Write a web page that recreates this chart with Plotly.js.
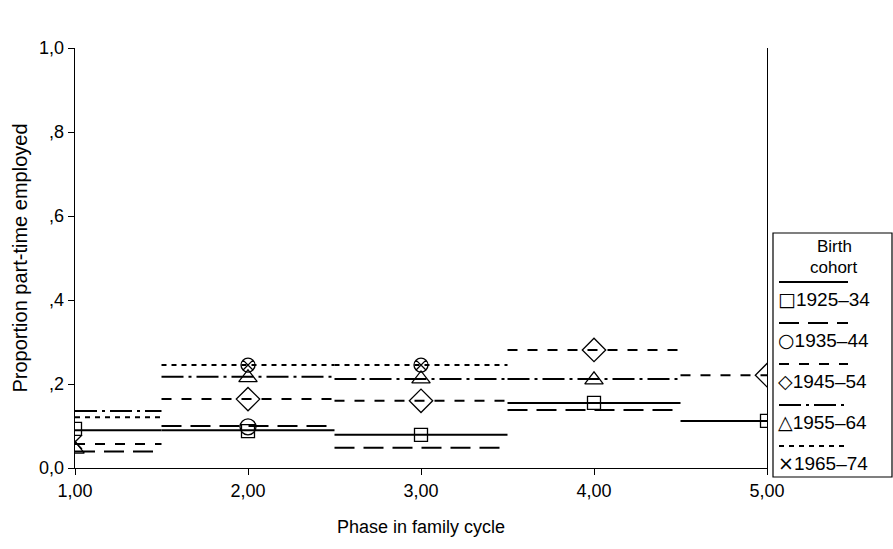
<!DOCTYPE html>
<html><head><meta charset="utf-8">
<script src="https://cdn.plot.ly/plotly-3.0.1.min.js"></script>
<style>html,body{margin:0;padding:0;background:#fff}#chart{width:893px;height:549px}</style>
</head><body><div id="chart"></div>
<script>
// ---- data ----
const phases = [1, 2, 3, 4, 5];
const cohorts = ['1925–34', '1935–44', '1945–54', '1955–64', '1965–74'];
// horizontal step levels per phase
const level1925 = [0.090, 0.090, 0.079, 0.155, 0.112];
const level1935 = [0.039, 0.100, 0.048, 0.138, null];
const level1945 = [0.057, 0.164, 0.160, 0.281, 0.221];
const level1955 = [0.136, 0.217, 0.212, 0.212, null];
const level1965 = [0.121, 0.245, 0.245, null, null];
// marker values per phase
const mark1925 = [0.093, 0.088, 0.079, 0.155, 0.112];
const mark1935 = [null, 0.098, null, null, null];
const mark1945 = [null, 0.164, 0.160, 0.281, 0.221];
const mark1955 = [0.045, 0.215, 0.212, 0.210, null];
const mark1965 = [0.062, 0.245, 0.245, null, null];
const xTickVals = [1, 2, 3, 4, 5];
const xTickText = ['1,00', '2,00', '3,00', '4,00', '5,00'];
const yTickVals = [0, 0.2, 0.4, 0.6, 0.8, 1.0];
const yTickText = ['0,0', ',2', ',4', ',6', ',8', '1,0'];

// ---- styles ----
const levels = [level1925, level1935, level1945, level1955, level1965];
const marks = [mark1925, mark1935, mark1945, mark1955, mark1965];
const dashes = ['solid', '20px,9px', '10px,10px', '22px,5px,3px,5px', '5px,5px'];
const symbols = [
  ['square-open'], ['circle-open'], ['diamond-open'], ['triangle-up-open'],
  ['x-thin-open', 'circle-x-open', 'circle-x-open']
];
const msize = [13, 16, 18, 16, 14];
const glyphs = ['□', '○', '◇', '△', '×'];

const XMIN = 1, XMAX = 5;
function steps(vals) {
  const xs = [], ys = [];
  vals.forEach((v, i) => {
    if (v == null) return;
    const p = phases[i];
    xs.push(Math.max(p - 0.5, XMIN), Math.min(p + 0.5, XMAX), null);
    ys.push(v, v, null);
  });
  return {xs, ys};
}

const traces = [];
levels.forEach((lv, k) => {
  const s = steps(lv);
  traces.push({x: s.xs, y: s.ys, type: 'scatter', mode: 'lines', showlegend: false,
    line: {color: '#000', width: 2, dash: dashes[k]}, hoverinfo: 'skip'});
});
marks.forEach((mv, k) => {
  const sy = phases.map((p, i) => symbols[k][Math.min(i, symbols[k].length - 1)]);
  traces.push({x: phases, y: mv, type: 'scatter', mode: 'markers', showlegend: false,
    marker: {symbol: sy, size: msize[k], color: '#000', line: {color: '#000', width: 1.3}}});
});

// ---- layout ----
const W = 893, H = 549, L = 75, R = 126, T = 48, B = 81;
const pw = W - L - R, ph = H - T - B;
const px = v => (v - L) / pw;
const py = v => (H - B - v) / ph;
const FONT = 'Liberation Sans, Arial, sans-serif';

const shapes = [], annotations = [];
// legend box
const boxL = 773, boxR = 892, boxT = 233, boxB = 477;
shapes.push({type: 'rect', xref: 'paper', yref: 'paper', x0: px(boxL), x1: px(boxR), y0: py(boxB), y1: py(boxT),
  line: {color: '#000', width: 1.2}, fillcolor: 'rgba(0,0,0,0)'});
annotations.push({xref: 'paper', yref: 'paper', x: px(834), y: py(246), text: 'Birth', showarrow: false,
  font: {family: FONT, size: 17, color: '#000'}, xanchor: 'center', yanchor: 'middle'});
annotations.push({xref: 'paper', yref: 'paper', x: px(834), y: py(267), text: 'cohort', showarrow: false,
  font: {family: FONT, size: 17, color: '#000'}, xanchor: 'center', yanchor: 'middle'});
cohorts.forEach((c, k) => {
  const lineY = 282 + k * 41, textY = lineY + 17;
  shapes.push({type: 'line', xref: 'paper', yref: 'paper', x0: px(779), x1: px(848), y0: py(lineY), y1: py(lineY),
    line: {color: '#000', width: 2, dash: dashes[k]}});
  annotations.push({xref: 'paper', yref: 'paper', x: px(776), y: py(textY),
    text: '<span style="font-family:DejaVu Sans">' + glyphs[k] + '</span>' + c,
    showarrow: false, font: {family: FONT, size: 19, color: '#000'}, xanchor: 'left', yanchor: 'middle'});
});

const layout = {
  width: W, height: H,
  margin: {l: L, r: R, t: T, b: B, pad: 0},
  paper_bgcolor: '#fff', plot_bgcolor: '#fff',
  font: {family: FONT, size: 18, color: '#000'},
  showlegend: false,
  xaxis: {range: [XMIN, XMAX], tickvals: xTickVals, ticktext: xTickText, showgrid: false, zeroline: false,
    showline: true, linecolor: '#000', linewidth: 1.3, ticks: 'outside', ticklen: 6, tickcolor: '#000',
    tickfont: {family: FONT, size: 18}, title: {text: 'Phase in family cycle', font: {family: FONT, size: 18}, standoff: 20}},
  yaxis: {range: [0, 1], tickvals: yTickVals, ticktext: yTickText, showgrid: false, zeroline: false,
    showline: true, mirror: true, linecolor: '#000', linewidth: 1.3, ticks: 'outside', ticklen: 6, tickcolor: '#000',
    tickfont: {family: FONT, size: 18}, title: {text: 'Proportion part-time employed', font: {family: FONT, size: 20}, standoff: 6}},
  shapes, annotations
};
Plotly.newPlot('chart', traces, layout, {staticPlot: true, displayModeBar: false});
</script></body></html>
